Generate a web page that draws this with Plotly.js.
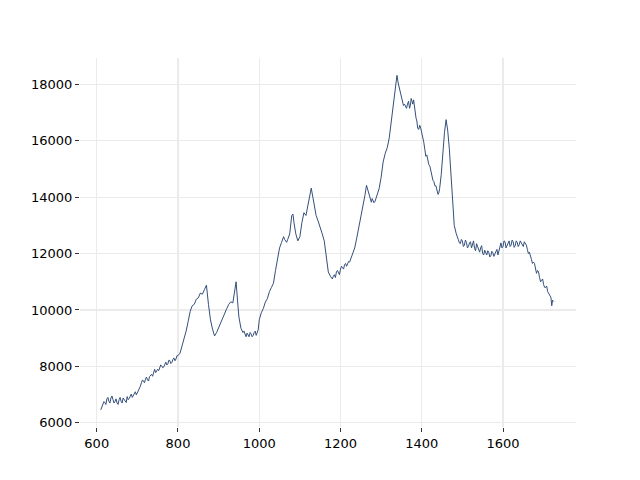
<!DOCTYPE html>
<html>
<head>
<meta charset="utf-8">
<script src="https://cdn.plot.ly/plotly-3.0.1.min.js"></script>
<style>html,body{margin:0;padding:0;background:#fff}#chart{width:640px;height:480px}</style>
</head>
<body>
<div id="chart"></div>
<script>
const wavenumber = [
610,612.5,615,617.5,620,622.5,625,627.5,630,632.5,
635,637.5,640,642.5,645,647.5,650,652.5,655,657.5,
660,662.5,665,667.5,670,672.5,675,677.5,680,682.5,
685,687.5,690,692.5,695,697.5,700,702.5,705,707.5,
710,712.5,715,717.5,720,722.5,725,727.5,730,732.5,
735,737.5,740,742.5,745,747.5,750,752.5,755,757.5,
760,762.5,765,767.5,770,772.5,775,777.5,780,782.5,
785,787.5,790,792.5,795,797.5,800,805,810,815,
820,825,830,835,840,845,850,855,860,865,
870,875,880,885,890,895,900,905,910,915,
920,925,930,935,940,943,947,950,955,960,
962.5,965,967.5,970,972.5,975,977.5,980,982.5,985,
987.5,990,992.5,995,997.5,1000,1005,1010,1015,1020,
1025,1030,1035,1040,1045,1050,1055,1057.5,1060,1062.5,
1065,1067.5,1070,1072.5,1075,1080,1083,1086,1090,1095,
1100,1105,1110,1115,1120,1125,1128,1132,1136,1140,
1145,1150,1155,1160,1165,1170,1175,1180,1182.5,1185,
1187.5,1190,1192.5,1195,1197.5,1200,1202.5,1205,1207.5,1210,
1212.5,1215,1217.5,1220,1222.5,1225,1227.5,1230,1235,1240,
1245,1250,1255,1260,1264,1268,1272,1276,1278,1280,
1282.5,1285,1287.5,1290,1295,1300,1305,1310,1315,1320,
1325,1330,1335,1339,1342,1346,1350,1352.5,1355,1357.5,
1360,1362.5,1365,1367.5,1370,1372,1374,1376,1378,1380,
1382,1384,1386,1388,1390,1392.5,1395,1397.5,1400,1402.5,
1405,1407.5,1410,1412.5,1415,1417.5,1420,1422.5,1425,1427.5,
1430,1432.5,1435,1437.5,1440,1442,1444,1448,1452,1456,
1460,1464,1468,1472,1476,1480,1485,1487.5,1490,1492.5,
1495,1497.5,1500,1502.5,1505,1507.5,1510,1512.5,1515,1517.5,
1520,1522.5,1525,1527.5,1530,1532.5,1535,1537.5,1540,1542.5,
1545,1547.5,1550,1552.5,1555,1557.5,1560,1562.5,1565,1567.5,
1570,1572.5,1575,1577.5,1580,1582.5,1585,1587.5,1590,1592.5,
1595,1597.5,1600,1602.5,1605,1607.5,1610,1612.5,1615,1617.5,
1620,1622.5,1625,1627.5,1630,1632.5,1635,1637.5,1640,1642.5,
1645,1647.5,1650,1652.5,1655,1657.5,1660,1662.5,1665,1667.5,
1670,1672.5,1675,1677.5,1680,1682.5,1685,1687.5,1690,1692.5,
1695,1697.5,1700,1702.5,1705,1707.5,1710,1712.5,1715,1718,
1720,1722,1725];
const intensity = [
6460,6580,6620,6750,6720,6650,6850,6900,6760,6700,
6880,6950,6820,6700,6760,6850,6700,6650,6820,6900,
6760,6700,6880,6820,6800,6720,6930,6820,6870,6950,
7020,6900,6980,7080,7100,6990,7060,7150,7250,7300,
7420,7520,7480,7420,7550,7620,7520,7480,7640,7700,
7720,7650,7830,7900,7780,7850,7900,7850,7960,8050,
8020,7950,7980,8100,8150,8050,8090,8220,8200,8100,
8140,8250,8300,8200,8260,8380,8380,8470,8720,8930,
9250,9590,9950,10150,10200,10380,10430,10600,10560,10720,
10880,10200,9650,9320,9080,9200,9380,9550,9700,9880,
10050,10200,10290,10250,10650,11000,10250,9750,9350,9200,
9250,9120,9050,9180,9100,9050,9200,9150,9050,9100,
9200,9250,9100,9200,9300,9650,9900,10050,10280,10400,
10650,10800,10950,11400,11800,12200,12400,12550,12600,12500,
12450,12400,12500,12600,12700,13350,13400,13050,12700,12450,
12600,13100,13450,13350,13750,14200,14320,14000,13650,13350,
13150,12950,12700,12450,11900,11350,11200,11100,11200,11250,
11150,11350,11400,11300,11250,11450,11550,11500,11450,11600,
11650,11550,11650,11720,11700,11800,11900,11950,12200,12550,
12900,13250,13650,14050,14420,14200,13950,13820,13950,13900,
13800,13850,13950,14100,14300,14700,15250,15550,15750,16100,
16700,17300,17850,18320,18050,17800,17600,17400,17250,17300,
17200,17150,17300,17400,17150,17250,17500,17400,17300,17450,
17250,16900,16800,16700,16450,16400,16550,16450,16300,16100,
15950,15700,15450,15500,15300,15150,15100,14950,14700,14600,
14550,14400,14400,14250,14100,14150,14300,14800,15600,16300,
16750,16350,15700,14700,13600,13000,12700,12620,12500,12380,
12350,12500,12450,12250,12300,12480,12400,12200,12250,12380,
12420,12200,12300,12450,12180,12100,12350,12250,12100,12050,
12200,12280,12000,11950,12120,12050,11950,12100,12050,11880,
11920,12080,12030,11900,11980,12050,12150,11950,12100,12250,
12380,12200,12250,12450,12420,12200,12280,12380,12450,12250,
12300,12480,12420,12220,12280,12450,12400,12250,12320,12450,
12380,12280,12250,12420,12350,12300,12150,12000,12050,11950,
11800,11650,11700,11650,11450,11300,11400,11350,11150,11000,
11050,11100,10900,10800,10800,10850,10650,10600,10550,10450,
10150,10350,10300];
const xTicks = [600,800,1000,1200,1400,1600];
const yTicks = [6000,8000,10000,12000,14000,16000,18000];

const axisStyle = {
  showline: false, zeroline: false, showgrid: true,
  gridcolor: '#ebebeb', gridwidth: 1.2,
  ticks: 'outside', ticklen: 4, tickwidth: 1, tickcolor: '#333',
  tickfont: {family: 'DejaVu Sans', size: 13, color: '#000'}
};
Plotly.newPlot('chart', [{
  x: wavenumber, y: intensity, type: 'scatter', mode: 'lines',
  line: {color: '#34507a', width: 1}, hoverinfo: 'skip'
}], {
  width: 640, height: 480,
  margin: {l: 80, r: 64, t: 58, b: 53},
  paper_bgcolor: '#fff', plot_bgcolor: '#fff',
  showlegend: false,
  xaxis: Object.assign({}, axisStyle, {range: [558.8, 1779.7], tickvals: xTicks, ticktext: xTicks.map(String)}),
  yaxis: Object.assign({}, axisStyle, {range: [5851, 18935], tickvals: yTicks, ticktext: yTicks.map(String)})
}, {displayModeBar: false, staticPlot: true});
</script>
</body>
</html>
